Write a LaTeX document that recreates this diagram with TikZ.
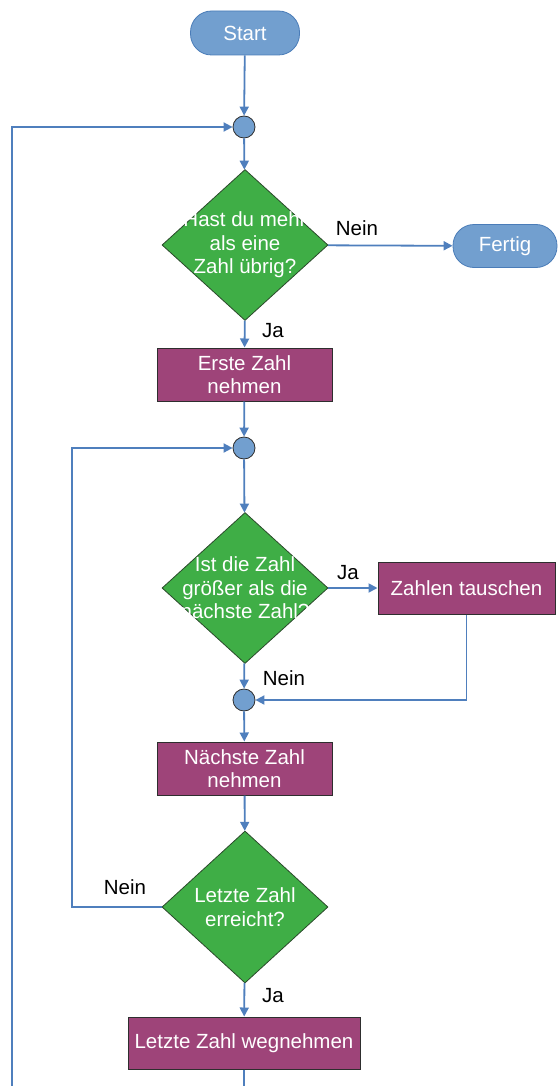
\documentclass[tikz,border=0pt]{standalone}
\usepackage{fontspec}
\setmainfont{Liberation Sans}
\usetikzlibrary{shapes,arrows.meta,positioning}

\definecolor{termfill}{HTML}{729FCF}
\definecolor{termline}{HTML}{4A7CB8}
\definecolor{decfill}{HTML}{3FAE46}
\definecolor{decline}{HTML}{2B4A2B}
\definecolor{actfill}{HTML}{9E4479}
\definecolor{actline}{HTML}{2E2E2E}
\definecolor{flow}{HTML}{4F7FBD}

\begin{document}
\begin{tikzpicture}[x=1pt,y=-1pt,font=\fontsize{20.5}{23.5}\selectfont]
	\tikzstyle{Terminal} = [rectangle, rounded corners=21pt, draw=termline, fill=termfill, text=white, minimum height=44pt, inner sep=0pt, line width=0.8pt]
	\tikzstyle{Decision} = [diamond, draw=decline, fill=decfill, minimum width=166pt, minimum height=151pt, inner sep=0pt, line width=0.8pt]
	\tikzstyle{Action}   = [rectangle, draw=actline, fill=actfill, text=white, align=center, minimum height=53pt, inner sep=0pt, line width=1pt]
	\tikzstyle{Joint}    = [circle, draw=actline, fill=termfill, minimum size=22pt, inner sep=0pt, line width=0.8pt]
	\tikzstyle{Ask}      = [text=white, align=center]
	\tikzstyle{Flow}     = [draw=flow, line width=1.8pt, -{Triangle[length=9pt,width=9pt]}]
	\tikzstyle{Plain}    = [draw=flow, line width=1.8pt]
	\tikzstyle{Answer}   = [text=black]

	\useasboundingbox (0,0) rectangle (558,1086);

	% nodes
	\node (start) at (245,33) [Terminal, minimum width=109pt] {Start};
	\node (j1) at (244,127) [Joint] {};
	\node (d1) at (245,245) [Decision, label={[Ask]center:Hast du mehr\\als eine\\Zahl übrig?}] {};
	\node (done) at (505,246) [Terminal, minimum width=104pt, minimum height=43pt] {Fertig};
	\node (b1) at (244.5,374.5) [Action, minimum width=175pt] {Erste Zahl\\nehmen};
	\node (j2) at (244,448) [Joint] {};
	\node (d2) at (245,588) [Decision, label={[Ask]center:Ist die Zahl\\größer als die\\nächste Zahl?}] {};
	\node (b2) at (466.5,588) [Action, minimum width=177pt, minimum height=52pt] {Zahlen tauschen};
	\node (j3) at (244,700) [Joint] {};
	\node (b3) at (244.5,768.5) [Action, minimum width=175pt] {Nächste Zahl\\nehmen};
	\node (d3) at (245,907) [Decision, minimum height=152pt, label={[Ask]center:Letzte Zahl\\erreicht?}] {};
	\node (b4) at (244,1043) [Action, minimum width=232pt, minimum height=52pt] {Letzte Zahl wegnehmen};

	\coordinate (out) at (244,1086);
	\coordinate (back) at (12,1086);

	% labels
	\node (nein1) at (357,228) [Answer] {Nein};
	\node (ja1) at (273,331) [Answer] {Ja};
	\node (ja2) at (348,573) [Answer] {Ja};
	\node (nein2) at (284,678) [Answer] {Nein};
	\node (nein3) at (125,887) [Answer] {Nein};
	\node (ja3) at (273,996) [Answer] {Ja};

	% connectors
	\draw [Flow] (start) to (j1);
	\draw [Flow] (back) |- (j1);
	\draw [Flow] (j1) to (d1);
	\draw [Flow] (d1) to (done);
	\draw [Flow] (d1) to (b1);
	\draw [Flow] (b1) to (j2);
	\draw [Flow] (j2) to (d2);
	\draw [Flow] (d2) to (b2);
	\draw [Flow] (d2) to (j3);
	\draw [Flow] (b2.south) |- (j3);
	\draw [Flow] (j3) to (b3);
	\draw [Flow] (b3) to (d3);
	\draw [Flow] (d3.west) -- ++(-90,0) |- (j2);
	\draw [Flow] (d3) to (b4);
	\draw [Plain] (b4) to (out);
\end{tikzpicture}
\end{document}
